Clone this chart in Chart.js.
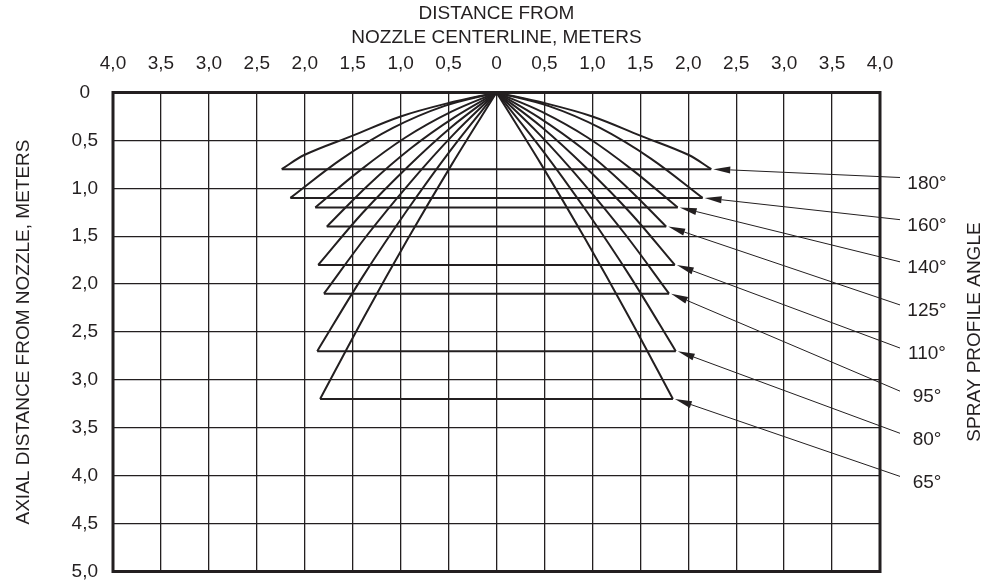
<!DOCTYPE html>
<html>
<head>
<meta charset="utf-8">
<script src="https://cdn.jsdelivr.net/npm/chart.js@4.4.1/dist/chart.umd.min.js"></script>
<style>
  html, body { margin: 0; padding: 0; background: #fff; }
</style>
</head>
<body>
<canvas id="graph" width="989" height="587"></canvas>
<script>
const ink = '#231f20';
const fontFamily = '"Liberation Sans", Arial, Helvetica, sans-serif';

const xTickLabels = ['4,0', '3,5', '3,0', '2,5', '2,0', '1,5', '1,0', '0,5', '0',
                     '0,5', '1,0', '1,5', '2,0', '2,5', '3,0', '3,5', '4,0'];
const yTickLabels = ['0', '0,5', '1,0', '1,5', '2,0', '2,5', '3,0', '3,5', '4,0', '4,5', '5,0'];

const angleLabels = ['180°', '160°', '140°', '125°', '110°', '95°', '80°', '65°'];

// half profile of each spray: distance from centerline (m) and axial distance (m)
const profileX = [
    [0, 0.50, 1.00, 1.50, 2.00, 2.24],
    [0, 0.54, 1.08, 1.61, 2.15],
    [0, 0.47, 0.95, 1.42, 1.89],
    [0, 0.44, 0.89, 1.33, 1.77],
    [0, 0.47, 0.93, 1.40, 1.86],
    [0, 0.45, 0.90, 1.35, 1.80],
    [0, 0.47, 0.94, 1.40, 1.87],
    [0, 0.46, 0.92, 1.38, 1.84]
];
const profileDepth = [
    [0, 0.11, 0.25, 0.45, 0.65, 0.80],
    [0, 0.14, 0.37, 0.69, 1.10],
    [0, 0.20, 0.47, 0.81, 1.20],
    [0, 0.26, 0.58, 0.96, 1.40],
    [0, 0.36, 0.78, 1.26, 1.80],
    [0, 0.44, 0.94, 1.49, 2.10],
    [0, 0.59, 1.24, 1.93, 2.70],
    [0, 0.74, 1.52, 2.34, 3.20]
];

// rows of the angle labels on the right, in axial meters
const labelDepth = [0.95, 1.39, 1.83, 2.28, 2.73, 3.18, 3.62, 4.07];

const datasets = [];
profileX.forEach((xs, i) => {
    const ds = profileDepth[i];
    const last = xs.length - 1;
    const base = {
        showLine: true, pointRadius: 0, borderColor: ink, borderWidth: 2,
        fill: false, label: angleLabels[i]
    };
    datasets.push(Object.assign({}, base, {
        data: xs.map((x, k) => ({x: -x, y: ds[k]})), tension: 0.35
    }));
    datasets.push(Object.assign({}, base, {
        data: xs.map((x, k) => ({x: x, y: ds[k]})), tension: 0.35
    }));
    datasets.push(Object.assign({}, base, {
        data: [{x: -xs[last], y: ds[last]}, {x: xs[last], y: ds[last]}], tension: 0
    }));
});

const annotations = {
    id: 'annotations',
    afterDraw(chart) {
        const {ctx, chartArea: a, scales: {x, y}} = chart;
        ctx.save();
        // frame
        ctx.strokeStyle = ink;
        ctx.lineWidth = 3;
        ctx.strokeRect(a.left, a.top, a.right - a.left, a.bottom - a.top);

        // angle labels with arrows
        ctx.font = '19px ' + fontFamily;
        ctx.fillStyle = ink;
        ctx.textAlign = 'center';
        ctx.textBaseline = 'middle';
        angleLabels.forEach((lab, i) => {
            const ly = y.getPixelForValue(labelDepth[i]);
            ctx.fillText(lab, a.right + 47, ly);
            const xs = profileX[i], ds = profileDepth[i];
            const tx = x.getPixelForValue(xs[xs.length - 1]) + 2;
            const ty = y.getPixelForValue(ds[ds.length - 1]);
            const sx = a.right + 20, sy = ly - 6;
            const ang = Math.atan2(ty - sy, tx - sx);
            const len = 17, hw = 3.5;
            const bx = tx - Math.cos(ang) * len, by = ty - Math.sin(ang) * len;
            ctx.lineWidth = 1;
            ctx.beginPath();
            ctx.moveTo(sx, sy);
            ctx.lineTo(bx, by);
            ctx.stroke();
            ctx.beginPath();
            ctx.moveTo(tx, ty);
            ctx.lineTo(bx - Math.sin(ang) * hw, by + Math.cos(ang) * hw);
            ctx.lineTo(bx + Math.sin(ang) * hw, by - Math.cos(ang) * hw);
            ctx.closePath();
            ctx.fill();
        });

        // right title
        ctx.translate(975, (a.top + a.bottom) / 2);
        ctx.rotate(-Math.PI / 2);
        ctx.fillText('SPRAY PROFILE ANGLE', 0, 0);
        ctx.restore();
    }
};

const graph = document.querySelector('#graph');

new Chart(graph, {
    type: 'scatter',
    data: {datasets: datasets},
    options: {
        responsive: false,
        animation: false,
        devicePixelRatio: 1,
        layout: {padding: {left: 0, top: 0, right: 109, bottom: 15.5}},
        plugins: {legend: {display: false}, tooltip: {enabled: false}},
        scales: {
            x: {
                type: 'linear',
                position: 'top',
                min: -4,
                max: 4,
                afterFit: (s) => { s.height = 92.5; s.paddingLeft = 0; s.paddingRight = 0; },
                ticks: {
                    stepSize: 0.5,
                    autoSkip: false,
                    maxRotation: 0,
                    padding: 17,
                    color: ink,
                    font: {family: fontFamily, size: 19},
                    callback: (v) => xTickLabels[Math.round((v + 4) * 2)]
                },
                grid: {color: ink, lineWidth: 1.3, drawTicks: false},
                border: {display: false},
                title: {
                    display: true,
                    text: ['DISTANCE FROM', 'NOZZLE CENTERLINE, METERS'],
                    color: ink,
                    font: {family: fontFamily, size: 19, lineHeight: 1.3},
                    padding: {top: 1, bottom: 0}
                }
            },
            y: {
                type: 'linear',
                min: 0,
                max: 5,
                reverse: true,
                afterFit: (s) => { s.width = 113; s.paddingTop = 0; s.paddingBottom = 0; },
                ticks: {
                    stepSize: 0.5,
                    autoSkip: false,
                    crossAlign: 'center',
                    padding: 15,
                    color: ink,
                    font: {family: fontFamily, size: 19},
                    callback: (v) => yTickLabels[Math.round(v * 2)]
                },
                grid: {color: ink, lineWidth: 1.3, drawTicks: false},
                border: {display: false},
                title: {
                    display: true,
                    text: 'AXIAL DISTANCE FROM NOZZLE, METERS',
                    color: ink,
                    font: {family: fontFamily, size: 19},
                    padding: {top: 12, bottom: 0}
                }
            }
        }
    },
    plugins: [annotations]
});
</script>
</body>
</html>
